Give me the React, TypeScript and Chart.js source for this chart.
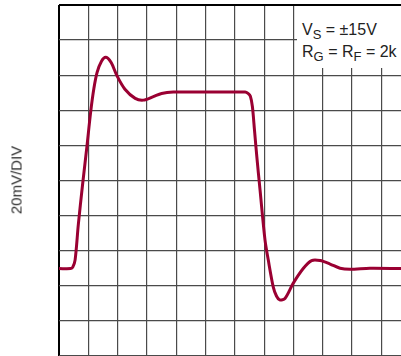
import React, { useEffect, useRef } from "react";
import { Chart, registerables } from "chart.js";

Chart.register(...registerables);

// time in horizontal divisions, voltage in vertical divisions (20mV/DIV)
const timeDiv = [0, 0.4, 0.47, 0.55, 0.66, 0.8, 0.95, 1.08, 1.19, 1.3, 1.45, 1.6, 1.78, 1.98, 2.25, 2.6, 2.88, 3.22, 3.5, 3.9, 4.81, 6.35, 6.45, 6.53, 6.6, 6.67, 6.75, 6.86, 7.03, 7.14, 7.31, 7.42, 7.53, 7.71, 7.99, 8.34, 8.62, 8.91, 9.25, 9.59, 9.93, 10.61, 11.67];
const voltageDiv = [2.49, 2.49, 2.53, 2.74, 3.75, 4.85, 5.95, 6.95, 7.62, 8.08, 8.4, 8.51, 8.36, 7.98, 7.6, 7.34, 7.29, 7.39, 7.48, 7.52, 7.52, 7.52, 7.48, 7.4, 7.1, 6.44, 5.68, 4.73, 3.3, 2.74, 1.97, 1.71, 1.6, 1.64, 2.07, 2.5, 2.72, 2.72, 2.62, 2.5, 2.47, 2.5, 2.49];

const xMin = 0;
const xMax = 11.67;
const yMin = 0;
const yMax = 10;

const yAxisLabel = "20mV/DIV";

export default function App() {
  const canvasRef = useRef<HTMLCanvasElement | null>(null);

  useEffect(() => {
    if (!canvasRef.current) return;
    const data = timeDiv.map((t, i) => ({ x: t, y: voltageDiv[i] }));
    const chart = new Chart(canvasRef.current, {
      type: "line",
      data: {
        datasets: [
          {
            data,
            borderColor: "#9a0032",
            borderWidth: 3,
            pointRadius: 0,
            tension: 0.3,
            fill: false,
          },
        ],
      },
      options: {
        animation: false,
        responsive: false,
        maintainAspectRatio: false,
        layout: { padding: { left: 59, top: 5, right: 0, bottom: 0 } },
        plugins: { legend: { display: false }, tooltip: { enabled: false } },
        scales: {
          x: {
            type: "linear",
            min: xMin,
            max: xMax,
            ticks: { display: false, stepSize: 1, includeBounds: false },
            grid: {
              color: (ctx: any) => (ctx.tick && ctx.tick.value === xMin ? "#000" : "#4a4a4a"),
              lineWidth: (ctx: any) => (ctx.tick && ctx.tick.value === xMin ? 2 : 1.2),
              drawTicks: false,
            },
            border: { display: false },
          },
          y: {
            type: "linear",
            min: yMin,
            max: yMax,
            ticks: { display: false, stepSize: 1, includeBounds: false },
            grid: {
              color: (ctx: any) => (ctx.tick && ctx.tick.value === yMax ? "#000" : "#4a4a4a"),
              lineWidth: (ctx: any) => (ctx.tick && ctx.tick.value === yMax ? 2 : 1.2),
              drawTicks: false,
            },
            border: { display: false },
          },
        },
      },
    });
    return () => chart.destroy();
  }, []);

  const font = "'Liberation Sans Narrow', 'Liberation Sans', Arial, sans-serif";
  const subStyle: React.CSSProperties = { fontSize: 13, verticalAlign: "-4px", lineHeight: 0 };

  return (
    <div style={{ position: "absolute", left: 0, top: 0, width: 401, height: 356, background: "#fff", overflow: "hidden" }}>
      <canvas ref={canvasRef} width={401} height={356} style={{ position: "absolute", left: 0, top: 0 }} />
      <div
        style={{
          position: "absolute",
          left: 16,
          top: 180,
          transform: "translate(-50%, -50%) rotate(-90deg)",
          fontFamily: font,
          fontSize: 15,
          color: "#2a2a2a",
          whiteSpace: "nowrap",
        }}
      >
        {yAxisLabel}
      </div>
      <div
        style={{
          position: "absolute",
          left: 297,
          top: 6,
          width: 104,
          height: 62,
          background: "#fff",
          fontFamily: font,
          fontSize: 16,
          color: "#222",
          whiteSpace: "nowrap",
        }}
      >
        <div style={{ position: "absolute", left: 5, top: 16, lineHeight: "16px" }}>
          V<sub style={subStyle}>S</sub> = ±15V
        </div>
        <div style={{ position: "absolute", left: 5, top: 38, lineHeight: "16px" }}>
          R<sub style={subStyle}>G</sub> = R<sub style={subStyle}>F</sub> = 2k
        </div>
      </div>
    </div>
  );
}
